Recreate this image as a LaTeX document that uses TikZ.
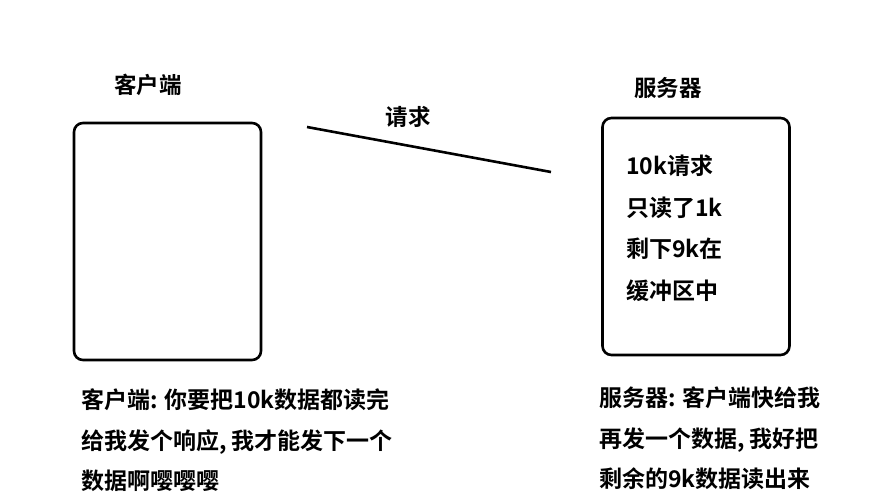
\documentclass[tikz,border=0pt]{standalone}
\usepackage{fontspec}
\usepackage{tikz}
\usetikzlibrary{positioning}
\newfontfamily\cjk{Noto Sans CJK SC Bold}
\tikzset{
  endbox/.style={
    rectangle,
    rounded corners=9pt,
    draw=black,
    line width=2.6pt,
    minimum width=187pt,
    minimum height=237pt,
    inner sep=0pt
  },
  tag/.style={
    font={\cjk\fontsize{22.5}{26}\selectfont},
    inner sep=0pt
  },
  note/.style={
    font={\cjk\fontsize{23}{40.7}\selectfont},
    align=left,
    anchor=north west,
    inner sep=0pt
  },
  msg/.style={line width=2.6pt, black}
}
\begin{document}
\begin{tikzpicture}[x=1pt,y=-1pt]
\useasboundingbox (0,0) rectangle (878,501);
\node[endbox] (client) at (167.5,241.5) {};
\node[endbox] (server) at (696,236.5) {};
\node[tag] (clientlbl) at (148,85) {客户端};
\node[tag] (serverlbl) at (668,88) {服务器};
\node[tag] (reqlbl) at (408,117) {请求};
\coordinate (reqfrom) at (307,127);
\coordinate (reqto) at (551,172);
\draw[msg] (reqfrom) -- (reqto);
\node[note, font={\cjk\fontsize{23}{41.7}\selectfont}] (buffer) at (626,154.5) {10k请求\\只读了1k\\剩下9k在\\缓冲区中};
\node[note] (clientsays) at (81,388.5) {客户端: 你要把10k数据都读完\\给我发个响应, 我才能发下一个\\数据啊嘤嘤嘤};
\node[note] (serversays) at (599,386.5) {服务器: 客户端快给我\\再发一个数据, 我好把\\剩余的9k数据读出来};
\end{tikzpicture}
\end{document}
